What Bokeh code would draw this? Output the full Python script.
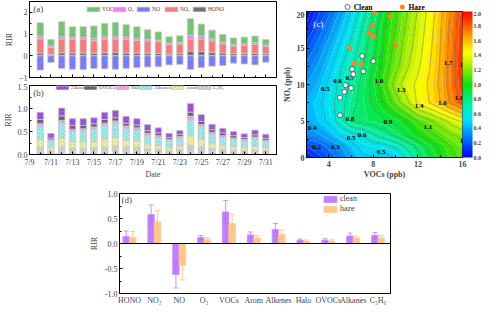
import numpy as np
from bokeh.plotting import figure
from bokeh.models import (ColumnDataSource, Legend, LegendItem, Range1d, FixedTicker, ColorBar,
                          LinearColorMapper, PrintfTickFormatter, Whisker, TeeHead, Span, Label,
                          AllLabels)
from bokeh.layouts import row, column
from bokeh.embed import file_html
from bokeh.resources import INLINE
from bokeh.core.properties import value

FONT = "Liberation Serif"

# ---------------- panel (a): daily RIR of precursor groups ----------------
days = [10, 11, 12, 13, 14, 15, 16, 17, 18, 19, 20, 21, 22, 23, 24, 25, 26, 27, 28, 29, 30, 31]
hono = [0.13, 0.06, 0.14, 0.13, 0.13, 0.12, 0.14, 0.15, 0.13, 0.13, 0.12, 0.11, 0.08, 0.10, 0.22, 0.20, 0.15, 0.13, 0.10, 0.10, 0.11, 0.09]
no2 = [0.65, 0.32, 0.63, 0.62, 0.62, 0.57, 0.63, 0.62, 0.62, 0.58, 0.56, 0.54, 0.43, 0.44, 0.55, 0.57, 0.54, 0.42, 0.35, 0.38, 0.42, 0.34]
o3 = [0.13, 0.07, 0.11, 0.10, 0.10, 0.11, 0.11, 0.11, 0.10, 0.07, 0.07, 0.07, 0.07, 0.08, 0.18, 0.14, 0.09, 0.08, 0.07, 0.07, 0.07, 0.07]
vocs = [0.61, 0.30, 0.69, 0.49, 0.49, 0.57, 0.61, 0.66, 0.58, 0.56, 0.45, 0.38, 0.30, 0.30, 0.76, 0.55, 0.40, 0.35, 0.30, 0.31, 0.31, 0.25]
no = [-0.66, -0.31, -0.58, -0.62, -0.63, -0.58, -0.60, -0.62, -0.58, -0.55, -0.52, -0.51, -0.42, -0.40, -0.63, -0.55, -0.48, -0.45, -0.34, -0.38, -0.42, -0.30]

# ---------------- panel (b): daily RIR of VOC groups ----------------
c3h6 = [0.16, 0.08, 0.17, 0.14, 0.13, 0.14, 0.16, 0.19, 0.16, 0.15, 0.12, 0.10, 0.08, 0.10, 0.20, 0.17, 0.13, 0.11, 0.09, 0.08, 0.09, 0.08]
arom = [0.16, 0.07, 0.19, 0.14, 0.15, 0.15, 0.18, 0.18, 0.15, 0.15, 0.11, 0.10, 0.07, 0.09, 0.21, 0.16, 0.12, 0.10, 0.08, 0.07, 0.09, 0.07]
alkenes = [0.30, 0.14, 0.31, 0.22, 0.23, 0.26, 0.29, 0.30, 0.26, 0.23, 0.18, 0.16, 0.15, 0.16, 0.34, 0.27, 0.18, 0.16, 0.15, 0.14, 0.16, 0.13]
halo = [0.05, 0.03, 0.07, 0.05, 0.05, 0.05, 0.05, 0.06, 0.05, 0.05, 0.05, 0.05, 0.03, 0.04, 0.08, 0.05, 0.05, 0.04, 0.04, 0.04, 0.04, 0.03]
ovocs = [0.09, 0.04, 0.10, 0.08, 0.07, 0.07, 0.08, 0.07, 0.06, 0.06, 0.06, 0.06, 0.04, 0.05, 0.09, 0.07, 0.06, 0.06, 0.05, 0.04, 0.05, 0.04]
alkanes = [0.16, 0.10, 0.17, 0.15, 0.15, 0.13, 0.16, 0.16, 0.15, 0.14, 0.13, 0.11, 0.09, 0.08, 0.19, 0.15, 0.12, 0.10, 0.09, 0.08, 0.10, 0.09]

date_ticks = [9, 11, 13, 15, 17, 19, 21, 23, 25, 27, 29, 31]
date_labels = ["7/9", "7/11", "7/13", "7/15", "7/17", "7/19", "7/21", "7/23", "7/25", "7/27", "7/29", "7/31"]

# ---------------- panel (c): RIR isopleth (VOCs vs NOx) ----------------
voc_grid = [2, 3, 4, 5, 6, 7, 8, 9, 10, 11, 12, 13, 14, 15, 16]
nox_grid = [0, 1.5, 3, 5, 7.5, 10, 12.5, 15, 17.5, 20]
rir_grid = [
    [0.05, 0.12, 0.20, 0.28, 0.38, 0.48, 0.50, 0.46, 0.50, 0.62, 0.76, 0.88, 0.98, 1.07, 1.13],
    [0.15, 0.20, 0.27, 0.34, 0.45, 0.53, 0.55, 0.56, 0.62, 0.72, 0.83, 0.93, 1.02, 1.10, 1.16],
    [0.30, 0.33, 0.40, 0.50, 0.55, 0.60, 0.68, 0.75, 0.82, 0.90, 0.98, 1.05, 1.12, 1.18, 1.22],
    [0.40, 0.45, 0.52, 0.65, 0.80, 0.84, 0.86, 0.89, 0.93, 1.00, 1.10, 1.17, 1.25, 1.34, 1.42],
    [0.42, 0.47, 0.55, 0.65, 0.76, 0.84, 0.92, 1.01, 1.14, 1.27, 1.42, 1.50, 1.60, 1.72, 1.84],
    [0.35, 0.42, 0.52, 0.62, 0.72, 0.83, 0.94, 1.08, 1.24, 1.36, 1.42, 1.52, 1.62, 1.76, 1.90],
    [0.27, 0.36, 0.46, 0.58, 0.68, 0.79, 0.91, 1.04, 1.16, 1.28, 1.38, 1.49, 1.61, 1.76, 1.92],
    [0.18, 0.28, 0.40, 0.51, 0.63, 0.75, 0.87, 1.02, 1.13, 1.25, 1.35, 1.47, 1.60, 1.75, 1.91],
    [0.08, 0.20, 0.31, 0.44, 0.57, 0.71, 0.85, 1.00, 1.10, 1.22, 1.33, 1.45, 1.59, 1.74, 1.90],
    [0.00, 0.13, 0.23, 0.36, 0.50, 0.65, 0.80, 0.95, 1.08, 1.19, 1.31, 1.43, 1.57, 1.72, 1.88],
]
clean_voc = [7.0, 8.0, 6.1, 6.2, 7.1, 5.5, 6.0, 5.4, 5.0, 5.0]
clean_nox = [13.9, 13.2, 12.1, 11.4, 11.8, 9.9, 9.5, 9.0, 8.2, 5.8]
haze_voc = [8.1, 9.5, 7.9, 7.6, 8.0, 5.9, 6.3, 6.9, 10.0]
haze_nox = [19.9, 19.4, 18.0, 17.1, 16.6, 15.0, 12.9, 12.8, 15.4]
iso_text = ["0.2", "0.3", "0.4", "0.5", "0.6", "0.7", "1.0", "1.3", "1.4", "1.6", "1.8", "1.7",
            "0.8", "0.9", "1.1", "0.6", "0.5", "0.5", "1.9", "1.2"]
iso_voc = [2.9, 4.6, 2.5, 3.7, 4.8, 5.9, 8.5, 10.5, 12.1, 14.2, 15.7, 14.7,
           5.9, 9.3, 12.9, 7.0, 6.0, 8.7, 16.15, 16.15]
iso_nox = [1.4, 1.5, 4.0, 9.4, 10.5, 10.9, 10.5, 9.2, 7.0, 7.5, 8.2, 13.0,
           5.3, 4.9, 4.2, 3.1, 2.7, 0.7, 12.7, 2.3]

# ---------------- panel (d): mean RIR clean vs haze ----------------
groups = ["HONO", "NO\u2082", "NO", "O\u2083", "VOCs", "Arom", "Alkenes", "Halo", "OVOCs", "Alkanes", "C\u2083H\u2086"]
clean_rir = [0.14, 0.58, -0.62, 0.12, 0.63, 0.17, 0.28, 0.065, 0.065, 0.15, 0.16]
clean_err = [0.11, 0.19, 0.27, 0.04, 0.23, 0.06, 0.12, 0.025, 0.03, 0.06, 0.06]
haze_rir = [0.12, 0.43, -0.44, 0.08, 0.40, 0.11, 0.18, 0.045, 0.045, 0.11, 0.11]
haze_err = [0.12, 0.23, 0.29, 0.04, 0.19, 0.05, 0.09, 0.025, 0.03, 0.04, 0.05]


def style(p, fs="8px", bold=False):
    for ax in p.axis:
        ax.major_label_text_font = FONT
        ax.major_label_text_font_size = fs
        ax.major_label_text_font_style = "bold" if bold else "normal"
        ax.axis_label_text_font = FONT
        ax.axis_label_text_font_size = fs
        ax.axis_label_text_font_style = "bold" if bold else "normal"
        ax.major_tick_in = 3
        ax.major_tick_out = 0
        ax.minor_tick_in = 2
        ax.minor_tick_out = 0
        ax.major_label_standoff = 2
        ax.axis_label_standoff = 2
        ax.axis_line_color = "black"
        ax.major_label_policy = AllLabels()
    p.grid.visible = False
    p.outline_line_color = "black"
    p.outline_line_alpha = 1
    p.background_fill_color = "white"
    p.border_fill_color = "white"


def legend_style(leg, fs="7px", gw=15, gh=7):
    leg.label_text_font = FONT
    leg.label_text_font_size = fs
    leg.glyph_width = gw
    leg.glyph_height = gh
    leg.label_height = gh
    leg.label_standoff = 1
    leg.padding = 0
    leg.border_line_color = None
    leg.background_fill_alpha = 0


def mini_legend(p, label, rend, loc, fs, gw, gh):
    leg = Legend(items=[LegendItem(label=label, renderers=[rend])], location=loc, margin=0)
    legend_style(leg, fs=fs, gw=gw, gh=gh)
    p.add_layout(leg)


# ---------------- figure (a) ----------------
fa = figure(width=279, height=83, x_range=Range1d(9, 32), y_range=Range1d(-1, 2.5),
            output_backend="svg", toolbar_location=None,
            min_border_left=22, min_border_right=3, min_border_top=1, min_border_bottom=6)
src_a = ColumnDataSource(dict(x=days, HONO=hono, NO2=no2, O3=o3, VOCs=vocs, NO=no))
ra = fa.vbar_stack(["HONO", "NO2", "O3", "VOCs"], x="x", width=0.6, source=src_a,
                   fill_color=["#737373", "#f77b7b", "#f77ef2", "#74c474"],
                   line_color="#c9c9c9", line_width=0.8)
rno = fa.vbar(x="x", top=0, bottom="NO", width=0.6, source=src_a,
              fill_color="#7b7bf5", line_color="#c9c9c9", line_width=0.8)
style(fa)
fa.xaxis.ticker = FixedTicker(ticks=date_ticks, minor_ticks=list(range(9, 33)))
fa.xaxis.major_label_text_font_size = "1px"
fa.xaxis.major_label_text_alpha = 0
fa.xaxis.major_label_standoff = 0
fa.yaxis.ticker = FixedTicker(ticks=[-1, 0, 1, 2], minor_ticks=[-0.5, 0.5, 1.5])
fa.yaxis.axis_label = "RIR"
for lab, rend, xo in [("VOCs", ra[3], 56), ("O\u2083", ra[2], 82), ("NO", rno, 106),
                      ("NO\u2082", ra[1], 134), ("HONO", ra[0], 162)]:
    mini_legend(fa, lab, rend, (xo, 65), "5.5px", 16, 6)
fa.add_layout(Label(x=9.35, y=2.4, text="(a)", text_font=FONT, text_font_size="9px",
                    text_baseline="top"))

# ---------------- figure (b) ----------------
fb = figure(width=279, height=98, x_range=Range1d(9, 32), y_range=Range1d(0, 1.5),
            output_backend="svg", toolbar_location=None,
            min_border_left=22, min_border_right=3, min_border_top=2, min_border_bottom=23)
src_b = ColumnDataSource(dict(x=days, C3H6=c3h6, Arom=arom, Alkenes=alkenes, Halo=halo,
                              OVOCs=ovocs, Alkanes=alkanes))
rb = fb.vbar_stack(["C3H6", "Arom", "Alkenes", "Halo", "OVOCs", "Alkanes"], x="x", width=0.6,
                   source=src_b,
                   fill_color=["#d6d6d6", "#f2eea2", "#a2eef0", "#f5a8ef", "#6e6e6e", "#a658e0"],
                   hatch_color=["#8a8a8a", "#b8b060", "#40b0b8", "#c060c0", "#303030", "#5a2090"],
                   hatch_pattern="x", hatch_scale=4, hatch_weight=0.5, hatch_alpha=0.6,
                   line_color="#c9c9c9", line_width=0.8)
style(fb)
fb.xaxis.ticker = FixedTicker(ticks=date_ticks, minor_ticks=list(range(9, 33)))
fb.xaxis.major_label_overrides = {t: l for t, l in zip(date_ticks, date_labels)}
fb.xaxis.major_label_standoff = 3
fb.xaxis.axis_label = "Date"
fb.xaxis.axis_label_standoff = 0
fb.yaxis.ticker = FixedTicker(ticks=[0, 0.5, 1.0, 1.5], minor_ticks=[0.25, 0.75, 1.25])
fb.yaxis.formatter = PrintfTickFormatter(format="%.1f")
fb.yaxis.axis_label = "RIR"
for lab, rend, xo in [("Alkanes", rb[5], 25), ("OVOCs", rb[4], 53), ("Halo", rb[3], 85),
                      ("Alkenes", rb[2], 108), ("Arom", rb[1], 140), ("C\u2083H\u2086", rb[0], 167)]:
    mini_legend(fb, lab, rend, (xo, 64), "5px", 16, 5)
fb.add_layout(Label(x=9.35, y=1.45, text="(b)", text_font=FONT, text_font_size="9px",
                    text_baseline="top"))

# ---------------- figure (c) ----------------
anchors = [(0.0, (0, 0, 255)), (0.25, (0, 112, 255)), (0.5, (0, 220, 255)), (0.7, (0, 240, 176)),
           (1.0, (16, 224, 16)), (1.3, (192, 240, 0)), (1.45, (255, 255, 0)), (1.7, (255, 144, 0)),
           (2.0, (255, 0, 0))]


def color_at(v):
    v = min(max(v, 0.0), 2.0)
    for (t0, c0), (t1, c1) in zip(anchors[:-1], anchors[1:]):
        if t0 <= v <= t1:
            f = (v - t0) / (t1 - t0)
            c = [int(round(a + (b - a) * f)) for a, b in zip(c0, c1)]
            return "#%02x%02x%02x" % tuple(c)
    return "#ff0000"


fill_levels = [round(-0.05 + 0.05 * k, 2) for k in range(43)]
fill_pal = [color_at((a + b) / 2) for a, b in zip(fill_levels[:-1], fill_levels[1:])]
line_levels = [round(0.1 * k, 1) for k in range(1, 20)]
bar_pal = [color_at(2.0 * k / 255) for k in range(256)]

# legend strip above panel (c): its own small figure so nothing is clipped
fl = figure(width=205, height=11, x_range=Range1d(0, 205), y_range=Range1d(0, 11),
            output_backend="svg", toolbar_location=None,
            min_border_left=0, min_border_right=0, min_border_top=0, min_border_bottom=0)
fl.axis.visible = False
fl.grid.visible = False
fl.outline_line_color = None
fl.background_fill_color = "white"
fl.border_fill_color = "white"
fl.scatter(x=[54], y=[5.5], marker="circle", size=5, fill_color="white",
           line_color="#333333", line_width=0.7)
fl.scatter(x=[126], y=[5.5], marker="circle", size=5, fill_color="#f28a1e", line_color=None)
fl.text(x=[62, 134], y=[5.5, 5.5], text=["Clean", "Haze"], text_font=value(FONT),
        text_font_size="7.5px", text_font_style="bold", text_baseline="middle",
        text_align="left", text_color="black")

fc = figure(width=205, height=170, x_range=Range1d(2, 16), y_range=Range1d(0, 20),
            output_backend="svg", toolbar_location=None,
            min_border_left=21, min_border_right=20, min_border_top=0, min_border_bottom=23)
z = np.array(rir_grid)
fc.contour(x=voc_grid, y=nox_grid, z=z, levels=fill_levels, fill_color=fill_pal, line_color=None)
fc.contour(x=voc_grid, y=nox_grid, z=z, levels=line_levels, fill_color=None,
           line_color="#3a3a3a", line_width=0.5, line_alpha=0.7)
fc.text(x=iso_voc, y=iso_nox, text=iso_text, text_font=value(FONT), text_font_size="7px",
        text_font_style="bold", text_align="center", text_baseline="middle", text_color="black")
fc.scatter(clean_voc, clean_nox, marker="circle", size=5, fill_color="white",
           line_color="#333333", line_width=0.7)
fc.scatter(haze_voc, haze_nox, marker="circle", size=5, fill_color="#f28a1e", line_color=None)
style(fc, bold=True)
fc.xaxis.ticker = FixedTicker(ticks=[4, 8, 12, 16], minor_ticks=[2, 6, 10, 14])
fc.yaxis.ticker = FixedTicker(ticks=[0, 5, 10, 15, 20], minor_ticks=[2.5, 7.5, 12.5, 17.5])
fc.xaxis.axis_label = "VOCs (ppb)"
fc.yaxis.axis_label = "NO\u2093 (ppb)"
fc.xaxis.major_label_standoff = 3
fc.xaxis.axis_label_standoff = 0
fc.add_layout(Label(x=2.6, y=18.3, text="(c)", text_font=FONT, text_font_size="9px",
                    text_color="white", text_baseline="middle"))
mapper = LinearColorMapper(palette=bar_pal, low=0, high=2)
cb = ColorBar(color_mapper=mapper, width=10, height=146, margin=3, padding=0, label_standoff=1,
              ticker=FixedTicker(ticks=[round(0.1 * k, 1) for k in range(21)]),
              formatter=PrintfTickFormatter(format="%.1f"),
              major_label_text_font=FONT, major_label_text_font_size="6px",
              major_label_text_font_style="bold", major_tick_line_color=None,
              bar_line_color=None, background_fill_alpha=0)
fc.add_layout(cb, "right")

# ---------------- figure (d) ----------------
xs = list(range(1, len(groups) + 1))
fd = figure(width=400, height=126, x_range=Range1d(0.6, 11.5), y_range=Range1d(-1, 1),
            output_backend="svg", toolbar_location=None,
            min_border_left=119, min_border_right=10, min_border_top=12, min_border_bottom=12)
src_c = ColumnDataSource(dict(x=[v - 0.13 for v in xs], top=clean_rir,
                              up=[a + e for a, e in zip(clean_rir, clean_err)],
                              lo=[a - e for a, e in zip(clean_rir, clean_err)]))
src_h = ColumnDataSource(dict(x=[v + 0.13 for v in xs], top=haze_rir,
                              up=[a + e for a, e in zip(haze_rir, haze_err)],
                              lo=[a - e for a, e in zip(haze_rir, haze_err)]))
rc = fd.vbar(x="x", top="top", bottom=0, width=0.26, source=src_c,
             fill_color="#b968f5", fill_alpha=0.85, line_color="#c58df5", line_width=0.8)
rh = fd.vbar(x="x", top="top", bottom=0, width=0.26, source=src_h,
             fill_color="#ffbd78", fill_alpha=0.85, line_color="#ffc995", line_width=0.8)
fd.add_layout(Whisker(source=src_c, base="x", upper="up", lower="lo", line_color="#a24fe0",
                      line_alpha=0.6, line_width=1,
                      upper_head=TeeHead(size=5, line_color="#c99af5"),
                      lower_head=TeeHead(size=5, line_color="#c99af5")))
fd.add_layout(Whisker(source=src_h, base="x", upper="up", lower="lo", line_color="#f5a55a",
                      line_alpha=0.6, line_width=1,
                      upper_head=TeeHead(size=5, line_color="#ffc890"),
                      lower_head=TeeHead(size=5, line_color="#ffc890")))
fd.add_layout(Span(location=0, dimension="width", line_color="black", line_width=1))
style(fd)
fd.xaxis.ticker = FixedTicker(ticks=xs)
fd.xaxis.major_label_overrides = {x: g for x, g in zip(xs, groups)}
fd.xaxis.major_tick_in = 0
fd.yaxis.ticker = FixedTicker(ticks=[-1, -0.5, 0, 0.5, 1], minor_ticks=[-0.75, -0.25, 0.25, 0.75])
fd.yaxis.formatter = PrintfTickFormatter(format="%.1f")
fd.yaxis.axis_label = "RIR"
fd.yaxis.axis_label_standoff = 3
leg_d = Legend(items=[LegendItem(label="clean", renderers=[rc]),
                      LegendItem(label="haze", renderers=[rh])],
               orientation="vertical", location=(203, 80), spacing=1, margin=0)
legend_style(leg_d, fs="8px", gw=16, gh=8)
leg_d.label_standoff = 2
fd.add_layout(leg_d)
fd.add_layout(Label(x=0.68, y=0.97, text="(d)", text_font=FONT, text_font_size="9px",
                    text_baseline="top"))

layout = column(row(column(fa, fb), column(fl, fc)), fd)
open("out.html", "w").write(file_html(layout, INLINE))
